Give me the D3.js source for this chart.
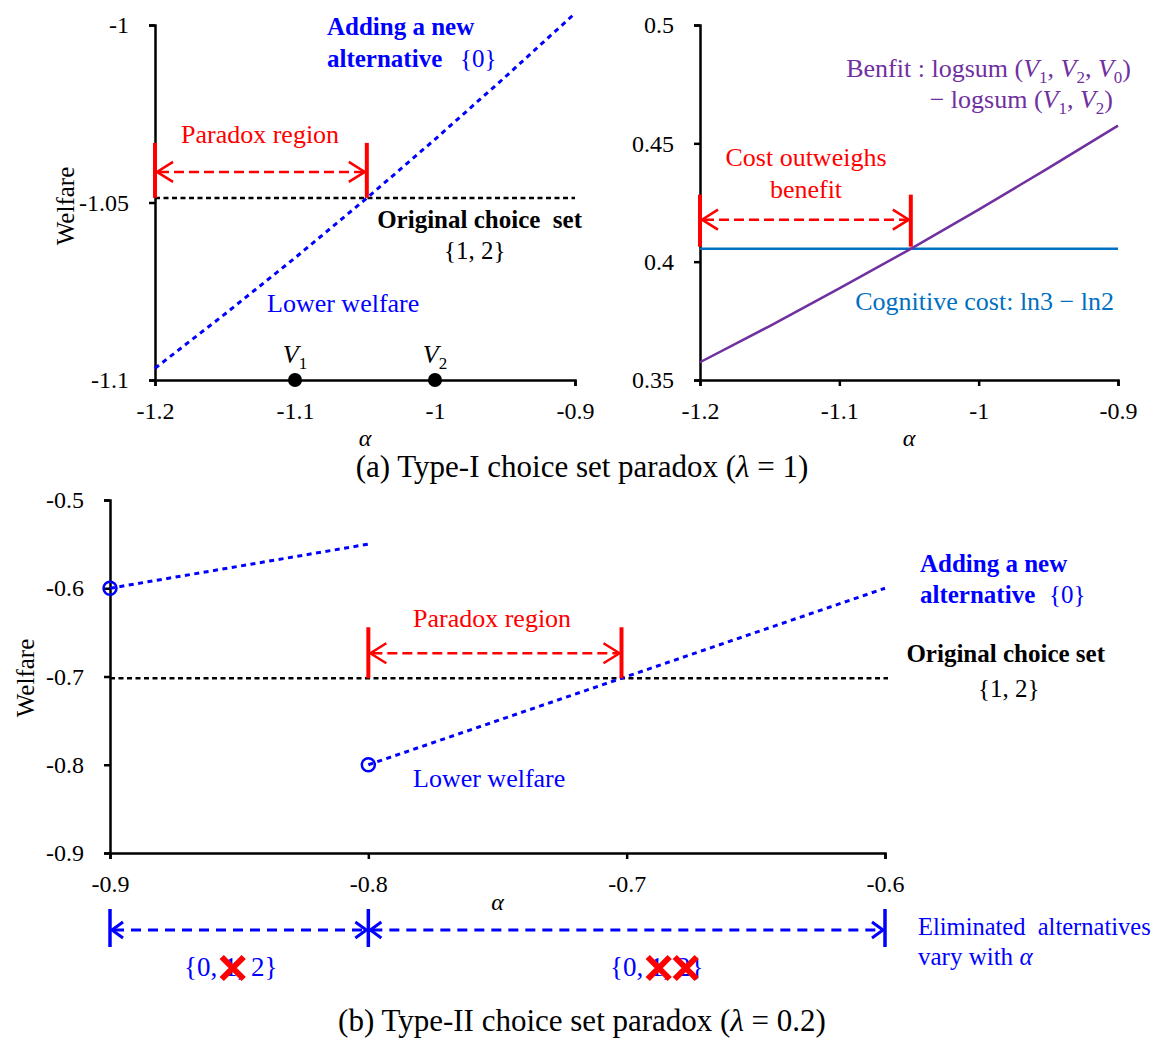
<!DOCTYPE html>
<html>
<head>
<meta charset="utf-8">
<script src="https://cdn.jsdelivr.net/npm/d3@7"></script>
<style>
  body { margin: 0; background: #fff; }
  svg text { font-family: "Liberation Serif", "Times New Roman", serif; white-space: pre; }
</style>
</head>
<body>
<svg id="chart" width="1162" height="1038"></svg>
<script>
// ---- data ----
// (a) Type-I, lambda = 1
var alphaA = [-1.2, -1.15, -1.1, -1.05, -1.0, -0.95, -0.9];
var welfareNewA = [-1.0967, -1.0814, -1.0656, -1.0492, -1.0322, -1.0147, -0.9967];
var welfareOrigA = -1.0487;
var benefitA = [0.3575, 0.3728, 0.3887, 0.4050, 0.4220, 0.4395, 0.4575];
var cognitiveCost = 0.4055;
var paradoxA = [-1.2, -1.0487];
var utilities = [{ name: "1", alpha: -1.1 }, { name: "2", alpha: -1.0 }];

// (b) Type-II, lambda = 0.2
var alphaB1 = [-0.9, -0.8];
var welfareB1 = [-0.6, -0.55];
var alphaB2 = [-0.8, -0.7, -0.6];
var welfareB2 = [-0.8, -0.7, -0.6];
var welfareOrigB = -0.702;
var paradoxB = [-0.8, -0.702];
var openPoints = [[-0.9, -0.6], [-0.8, -0.8]];
var elimBreaks = [-0.9, -0.8, -0.6];
var elimSets = [{ from: -0.9, to: -0.8, crossed: [4] }, { from: -0.8, to: -0.6, crossed: [4, 7] }];

// ticks
var ticksAx = [-1.2, -1.1, -1, -0.9];
var ticksAyL = [-1.1, -1.05, -1];
var ticksAyR = [0.35, 0.4, 0.45, 0.5];
var ticksBx = [-0.9, -0.8, -0.7, -0.6];
var ticksBy = [-0.9, -0.8, -0.7, -0.6, -0.5];

var BLUE = "#0000ff", RED = "#ff0000", PURPLE = "#7030a0", SKY = "#0070c0";
var FS = 24, FT = 26, FB = 25, CAP = 31;

var svg = d3.select("#chart");

// scales
var xAL = d3.scaleLinear().domain([-1.2, -0.9]).range([155, 575]);
var yAL = d3.scaleLinear().domain([-1.1, -1]).range([380, 25]);
var xAR = d3.scaleLinear().domain([-1.2, -0.9]).range([700, 1118]);
var yAR = d3.scaleLinear().domain([0.35, 0.5]).range([380, 25]);
var xB = d3.scaleLinear().domain([-0.9, -0.6]).range([110, 885]);
var yB = d3.scaleLinear().domain([-0.9, -0.5]).range([853, 500]);

function fmt(d) { return String(d); }

function drawAxes(x, y, xt, yt) {
  var gx = svg.append("g")
    .attr("transform", "translate(0," + y.range()[0] + ")")
    .call(d3.axisBottom(x).tickValues(xt).tickSize(6).tickPadding(16).tickFormat(fmt));
  var gy = svg.append("g")
    .attr("transform", "translate(" + x.range()[0] + ",0)")
    .call(d3.axisLeft(y).tickValues(yt).tickSize(6).tickPadding(20).tickFormat(fmt));
  [gx, gy].forEach(function (g) {
    g.attr("font-size", null).attr("font-family", null);
    g.selectAll("path, line").attr("stroke", "#000").attr("stroke-width", 2.5);
    g.selectAll("text").attr("font-size", FS).attr("fill", "#000");
  });
}

function addText(x, y, parts, color, anchor, size) {
  var t = svg.append("text").attr("x", x).attr("y", y)
    .attr("fill", color || "#000")
    .attr("font-size", size || FT)
    .attr("text-anchor", anchor || "start");
  var down = false;
  parts.forEach(function (p) {
    if (typeof p === "string") p = { t: p };
    var s = t.append("tspan").text(p.t);
    if (p.i) s.attr("font-style", "italic");
    if (p.b) s.attr("font-weight", "bold");
    if (p.sub) {
      s.attr("font-size", 17);
      if (!down) { s.attr("dy", 6); down = true; }
    } else if (down) { s.attr("dy", -6); down = false; }
  });
  return t;
}

function dimArrow(x1, x2, y, color, dash, w, ah, aw) {
  svg.append("line").attr("x1", x1 + 2).attr("x2", x2 - 2).attr("y1", y).attr("y2", y)
    .attr("stroke", color).attr("stroke-width", w).attr("stroke-dasharray", dash);
  svg.append("path").attr("d", "M" + (x1 + ah) + "," + (y - aw) + "L" + x1 + "," + y + "L" + (x1 + ah) + "," + (y + aw))
    .attr("fill", "none").attr("stroke", color).attr("stroke-width", w);
  svg.append("path").attr("d", "M" + (x2 - ah) + "," + (y - aw) + "L" + x2 + "," + y + "L" + (x2 - ah) + "," + (y + aw))
    .attr("fill", "none").attr("stroke", color).attr("stroke-width", w);
}

function vbar(x, y1, y2, color, w) {
  svg.append("line").attr("x1", x).attr("x2", x).attr("y1", y1).attr("y2", y2)
    .attr("stroke", color).attr("stroke-width", w);
}

function hline(x0, x1, y, color, w, dash) {
  svg.append("line").attr("x1", x0).attr("x2", x1)
    .attr("y1", y).attr("y2", y)
    .attr("stroke", color).attr("stroke-width", w).attr("stroke-dasharray", dash);
}

function curve(x, y, xs, ys, color, w, dash) {
  var line = d3.line().x(function (d) { return x(d[0]); }).y(function (d) { return y(d[1]); });
  svg.append("path").datum(d3.zip(xs, ys)).attr("d", line)
    .attr("fill", "none").attr("stroke", color).attr("stroke-width", w)
    .attr("stroke-dasharray", dash || null);
}

// ================= (a) left: welfare =================
drawAxes(xAL, yAL, ticksAx, ticksAyL);
hline(xAL(-1.2), xAL(-0.9), yAL(welfareOrigA), "#000", 2.5, "5,3.5");
curve(xAL, yAL, alphaA, welfareNewA, BLUE, 3, "5,4.5");

var pyA = yAL(welfareOrigA);
vbar(xAL(paradoxA[0]), pyA - 55, pyA, RED, 4);
vbar(xAL(paradoxA[1]), pyA - 55, pyA, RED, 4);
dimArrow(xAL(paradoxA[0]) + 2, xAL(paradoxA[1]) - 2, pyA - 26, RED, "10,5", 2.5, 16, 10);
addText(181, 143, ["Paradox region"], RED);

svg.selectAll(".util").data(utilities).enter().append("circle")
  .attr("cx", function (d) { return xAL(d.alpha); }).attr("cy", yAL(-1.1)).attr("r", 7).attr("fill", "#000");
utilities.forEach(function (d) {
  addText(xAL(d.alpha), 363, [{ t: "V", i: true }, { t: d.name, sub: true }], "#000", "middle");
});

addText(327, 35, [{ t: "Adding a new", b: true }], BLUE, "start", FB);
addText(327, 67, [{ t: "alternative", b: true }], BLUE, "start", FB);
addText(460, 67, ["{0}"], BLUE, "start", 25);
addText(582, 228, [{ t: "Original choice  set", b: true }], "#000", "end", FB);
addText(444, 259, ["{1, 2}"], "#000", "start", 25);
addText(267, 312, ["Lower welfare"], BLUE);

svg.append("text").attr("transform", "translate(74,206) rotate(-90)").attr("text-anchor", "middle")
  .attr("font-size", 25).text("Welfare");
svg.append("text").attr("x", xAL(-1.05)).attr("y", 446).attr("text-anchor", "middle")
  .attr("font-size", FS).attr("font-style", "italic").text("α");

// ================= (a) right: benefit vs cost =================
drawAxes(xAR, yAR, ticksAx, ticksAyR);
hline(xAR(-1.2), xAR(-0.9), yAR(cognitiveCost), SKY, 2.5, null);
curve(xAR, yAR, alphaA, benefitA, PURPLE, 2.5, null);

var pyR = yAR(cognitiveCost);
vbar(xAR(paradoxA[0]), pyR - 54, pyR - 2, RED, 4);
vbar(xAR(paradoxA[1]), pyR - 54, pyR - 2, RED, 4);
dimArrow(xAR(paradoxA[0]) + 2, xAR(paradoxA[1]) - 2, pyR - 29, RED, "10,5", 2.5, 16, 10);
addText(806, 166, ["Cost outweighs"], RED, "middle");
addText(806, 198, ["benefit"], RED, "middle");

addText(1131, 77, ["Benfit : logsum (", { t: "V", i: true }, { t: "1", sub: true }, ", ",
  { t: "V", i: true }, { t: "2", sub: true }, ", ", { t: "V", i: true }, { t: "0", sub: true }, ")"], PURPLE, "end");
addText(1113, 108, ["\u2212 logsum (", { t: "V", i: true }, { t: "1", sub: true }, ", ",
  { t: "V", i: true }, { t: "2", sub: true }, ")"], PURPLE, "end");
addText(1114, 310, ["Cognitive cost: ln3 \u2212 ln2"], SKY, "end");

svg.append("text").attr("x", xAR(-1.05)).attr("y", 446).attr("text-anchor", "middle")
  .attr("font-size", FS).attr("font-style", "italic").text("α");

addText(582, 477, ["(a) Type-I choice set paradox (", { t: "λ", i: true }, " = 1)"], "#000", "middle", CAP);

// ================= (b) Type-II =================
drawAxes(xB, yB, ticksBx, ticksBy);
hline(110, 888, yB(welfareOrigB), "#000", 2.5, "5,3.5");
curve(xB, yB, alphaB1, welfareB1, BLUE, 3, "5,4.5");
curve(xB, yB, alphaB2, welfareB2, BLUE, 3, "5,4.5");
svg.selectAll(".open").data(openPoints).enter().append("circle")
  .attr("cx", function (d) { return xB(d[0]); }).attr("cy", function (d) { return yB(d[1]); })
  .attr("r", 6.5).attr("fill", "none").attr("stroke", BLUE).attr("stroke-width", 2.5);

var pyB = yB(welfareOrigB);
vbar(xB(paradoxB[0]), pyB - 51, pyB, RED, 4);
vbar(xB(paradoxB[1]), pyB - 51, pyB, RED, 4);
dimArrow(xB(paradoxB[0]) + 2, xB(paradoxB[1]) - 2, pyB - 25, RED, "10,5", 2.5, 16, 10);
addText(413, 627, ["Paradox region"], RED);

addText(920, 572, [{ t: "Adding a new", b: true }], BLUE, "start", FB);
addText(920, 603, [{ t: "alternative", b: true }], BLUE, "start", FB);
addText(1049, 603, ["{0}"], BLUE, "start", 25);
addText(1105, 662, [{ t: "Original choice set", b: true }], "#000", "end", FB);
addText(978, 697, ["{1, 2}"], "#000", "start", 25);
addText(413, 787, ["Lower welfare"], BLUE);

svg.append("text").attr("transform", "translate(34,678) rotate(-90)").attr("text-anchor", "middle")
  .attr("font-size", 25).text("Welfare");
svg.append("text").attr("x", xB(-0.75)).attr("y", 910).attr("text-anchor", "middle")
  .attr("font-size", FS).attr("font-style", "italic").text("α");

// eliminated alternatives strip
var yE = 930;
elimBreaks.forEach(function (a) { vbar(xB(a), yE - 21, yE + 17, BLUE, 3.5); });
elimSets.forEach(function (s, k) {
  dimArrow(xB(s.from) + 2, xB(s.to) - 2, yE, BLUE, "10,7", 3, 11, 8);
  var t = addText(k === 0 ? 184 : 610, 976, ["{0, 1, 2}"], BLUE, "start", 27);
  var node = t.node();
  s.crossed.forEach(function (ci) {
    var e = node.getExtentOfChar(ci);
    var cx = e.x + e.width / 2 + 2, cy = e.y + e.height / 2 + 1, h = 11;
    svg.append("path")
      .attr("d", "M" + (cx - h) + "," + (cy - h) + "L" + (cx + h) + "," + (cy + h) +
        "M" + (cx + h) + "," + (cy - h) + "L" + (cx - h) + "," + (cy + h))
      .attr("stroke", RED).attr("stroke-width", 6).attr("fill", "none");
  });
});
addText(918, 935, ["Eliminated  alternatives"], BLUE, "start", 24.5);
addText(918, 965, ["vary with ", { t: "α", i: true }], BLUE, "start", 25);

addText(582, 1031, ["(b) Type-II choice set paradox (", { t: "λ", i: true }, " = 0.2)"], "#000", "middle", CAP);
</script>
</body>
</html>
